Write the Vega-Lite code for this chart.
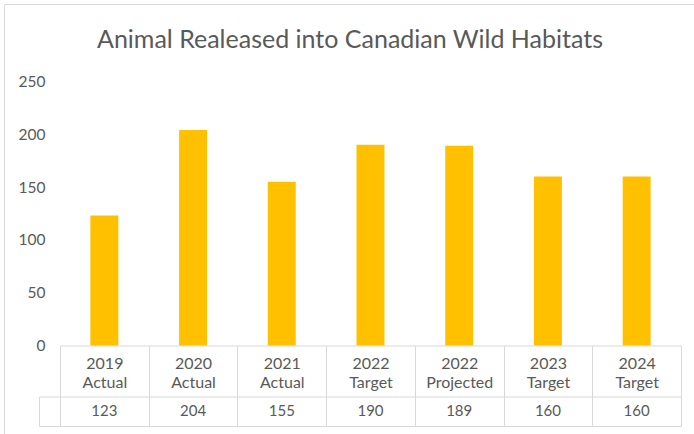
{
  "$schema": "https://vega.github.io/schema/vega-lite/v6.json",
  "autosize": {"type": "none"},
  "padding": {"left": 4, "top": 4, "right": 0, "bottom": 0},
  "width": 690,
  "height": 430,
  "title": {"text": "Animal Realeased into Canadian Wild Habitats", "fontSize": 25, "font": "Lato", "fontWeight": "normal", "color": "#595959", "anchor": "middle", "baseline": "alphabetic", "offset": 0, "dy": 69, "dx": 1},
  "config": {
    "view": {"stroke": null},
    "font": "Lato",
    "axis": {"labelFont": "Lato", "labelColor": "#595959", "labelFontSize": 15.5, "grid": false, "domainColor": "#D9D9D9", "tickColor": "#D9D9D9", "domainWidth": 1, "tickWidth": 1}
  },
  "data": {"values": [
    {"cat": "2019 Actual", "value": 123},
    {"cat": "2020 Actual", "value": 204},
    {"cat": "2021 Actual", "value": 155},
    {"cat": "2022 Target", "value": 190},
    {"cat": "2022 Projected", "value": 189},
    {"cat": "2023 Target", "value": 160},
    {"cat": "2024 Target", "value": 160}
  ]},
  "resolve": {"scale": {"x": "independent", "y": "independent"}, "axis": {"x": "independent", "y": "independent"}},
  "layer": [
    {
      "mark": {"type": "bar", "color": "#FFC000", "width": {"band": 0.315}},
      "encoding": {
        "x": {"field": "cat", "type": "nominal", "sort": null,
          "scale": {"range": [56, 677], "paddingInner": 0, "paddingOuter": 0},
          "axis": {"orient": "bottom", "offset": -88.5, "title": null, "labelAngle": 0, "labelFontSize": 16, "domain": true, "ticks": true, "tickBand": "extent", "tickSize": 51, "labelPadding": -41.5, "labelExpr": "split(datum.label, ' ')", "labelLineHeight": 19, "labelBaseline": "top"}},
        "y": {"field": "value", "type": "quantitative",
          "scale": {"domain": [0, 250], "range": [341.5, 77.4], "nice": false},
          "axis": {"orient": "left", "offset": -41, "title": null, "domain": false, "ticks": false, "tickSize": 0, "labelPadding": 0, "values": [0, 50, 100, 150, 200, 250]}}
      }
    },
    {
      "mark": {"type": "text", "font": "Lato", "fontSize": 15, "color": "#595959", "baseline": "middle", "align": "center"},
      "encoding": {
        "x": {"field": "cat", "type": "nominal", "sort": null,
          "scale": {"range": [35, 677], "paddingInner": 0, "paddingOuter": 0.1184, "align": 1},
          "axis": {"orient": "bottom", "offset": -37.5, "title": null, "labels": false, "domain": true, "ticks": true, "tickBand": "extent", "tickSize": 29.5}},
        "y": {"datum": 0, "type": "quantitative",
          "scale": {"domain": [-1, 1], "range": [422, 392.5]},
          "axis": {"orient": "left", "offset": -35, "title": null, "labels": false, "ticks": false, "domain": true}},
        "text": {"field": "value"}
      }
    },
    {
      "mark": {"type": "text", "text": ""},
      "encoding": {
        "x": {"field": "cat", "type": "nominal", "sort": null,
          "scale": {"range": [35, 677], "paddingInner": 0, "paddingOuter": 0.1184, "align": 1},
          "axis": {"orient": "bottom", "offset": -8, "title": null, "labels": false, "ticks": false, "domain": true}}
      }
    },
    {
      "mark": {"type": "text", "text": ""},
      "encoding": {
        "x": {"field": "cat", "type": "nominal", "sort": null,
          "scale": {"range": [0, 700]},
          "axis": {"orient": "top", "offset": 0, "title": null, "labels": false, "ticks": false, "domain": true}},
        "y": {"datum": 0, "type": "quantitative",
          "scale": {"domain": [0, 1], "range": [440, 0]},
          "axis": {"orient": "left", "offset": 0, "title": null, "labels": false, "ticks": false, "domain": true}}
      }
    }
  ]
}
